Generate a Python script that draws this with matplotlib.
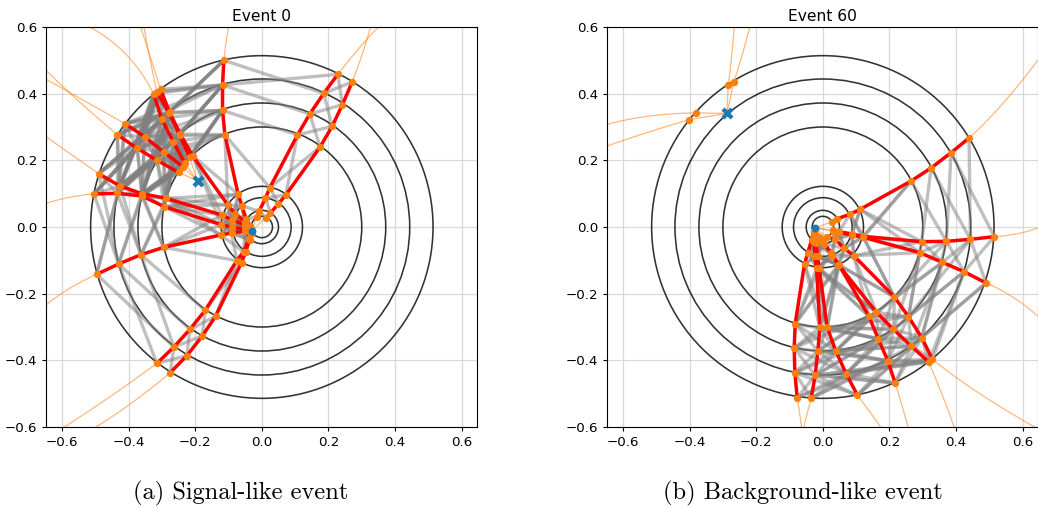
import numpy as np
import matplotlib
matplotlib.use("Agg")
import matplotlib.pyplot as plt
from matplotlib.patches import Circle

W, H = 1038, 508
ring_radii = [0.032, 0.05, 0.088, 0.122, 0.30, 0.372, 0.444, 0.514]
ticks = [-0.6, -0.4, -0.2, 0.0, 0.2, 0.4, 0.6]

# ---------- Event 0 : hits ordered from the outermost layer inward ----------
a_A = [(-.114,.50),(-.118,.426),(-.118,.35),(-.111,.277),(-.071,.098),(-.06,.064),(-.047,.023),(-.036,.004)]
a_B = [(-.304,.413),(-.277,.344),(-.245,.279),(-.208,.214),(-.102,.066),(-.08,.039),(-.05,.016),(-.035,.0)]
a_C = [(-.315,.405),(-.279,.342),(-.247,.277),(-.217,.209)]
a_D = [(-.325,.40),(-.301,.325),(-.266,.256),(-.231,.191)]
a_E = [(-.411,.31),(-.352,.271),(-.295,.225),(-.237,.181)]
a_F = [(-.434,.277),(-.374,.236),(-.315,.20),(-.25,.164)]
a_G = [(-.49,.16),(-.426,.123),(-.36,.10),(-.287,.086),(-.12,.036),(-.089,.021),(-.05,.006),(-.034,-.005)]
a_H = [(-.504,.099),(-.434,.101),(-.36,.093),(-.293,.061),(-.122,.007),(-.089,-.001),(-.05,-.007),(-.034,-.009)]
a_I = [(-.496,-.142),(-.43,-.111),(-.363,-.083),(-.295,-.061),(-.123,-.024),(-.091,-.018),(-.05,-.013),(-.034,-.011)]
a_J = [(-.315,-.409),(-.264,-.36),(-.216,-.307),(-.17,-.25),(-.075,-.101),(-.055,-.074),(-.039,-.037),(-.033,-.016)]
a_K = [(-.275,-.437),(-.225,-.386),(-.179,-.327),(-.139,-.268),(-.061,-.107),(-.049,-.076),(-.037,-.039),(-.032,-.02)]
a_M = [(.228,.458),(.186,.401),(.144,.339),(.107,.276),(.024,.118),(.011,.087),(-.008,.047),(-.015,.031)]
a_N = [(.271,.435),(.242,.367),(.211,.302),(.175,.24),(.072,.096),(.05,.07),(.026,.042),(.012,.028)]
tracks_a = [a_A, a_B, a_C, a_D, a_E, a_F, a_G, a_H, a_I, a_J, a_K, a_M, a_N]
# outward continuation of each track: a middle point and the end point
tails_a = [((-.108,.55),(-.10,.60)), ((-.335,.51),(-.364,.60)), ((-.335,.50),(-.354,.60)),
           ((-.407,.517),(-.517,.60)), ((-.537,.381),(-.648,.443)), ((-.548,.376),(-.648,.47)),
           ((-.577,.221),(-.648,.271)), ((-.577,.089),(-.648,.071)), ((-.577,-.184),(-.648,-.234)),
           ((-.457,-.51),(-.593,-.60)), ((-.387,-.525),(-.498,-.60)), ((.295,.54),(.35,.60)),
           ((.302,.52),(.326,.60))]
vertices_a_x = [-.03, -.193]
vertices_a_y = [-.011, .138]
markers_a = ['o', 'X']
# which vertex each track's innermost hit is joined to
origins_a = [0, 0, 1, 1, 1, 1, 0, 0, 0, 0, 0, 0, 0]

# ---------- Event 60 ----------
b_1 = [(-.077,-.512),(-.084,-.437),(-.086,-.363),(-.083,-.29),(-.055,-.111),(-.045,-.077),(-.034,-.04),(-.028,-.016)]
b_2 = [(-.035,-.514),(-.023,-.445),(-.015,-.372),(-.009,-.301),(-.019,-.124),(-.024,-.087),(-.026,-.045),(-.026,-.02)]
b_3 = [(.104,-.505),(.07,-.44),(.039,-.372),(.013,-.301),(-.011,-.124),(-.016,-.087),(-.02,-.047),(-.022,-.024)]
b_4 = [(.217,-.468),(.195,-.401),(.166,-.335),(.138,-.267),(.049,-.114),(.029,-.086),(.005,-.05),(-.008,-.032)]
b_5 = [(.318,-.405),(.266,-.358),(.212,-.307),(.161,-.256),(.046,-.113),(.026,-.079),(.0,-.045),(-.012,-.03)]
b_6 = [(.329,-.397),(.297,-.332),(.257,-.269),(.215,-.21),(.093,-.086),(.064,-.064),(.036,-.036),(.012,-.03)]
b_7 = [(.49,-.168),(.424,-.134),(.359,-.106),(.291,-.077),(.121,-.031),(.087,-.024),(.046,-.016),(.03,-.012)]
b_8 = [(.515,-.029),(.443,-.037),(.371,-.043),(.297,-.044),(.121,-.028),(.087,-.021),(.049,-.014),(.032,-.01)]
b_9 = [(.439,.267),(.385,.223),(.325,.177),(.265,.138),(.112,.053),(.081,.038),(.044,.025),(.028,.016)]
tracks_b = [b_1, b_2, b_3, b_4, b_5, b_6, b_7, b_8, b_9]
tails_b = [((-.07,-.556),(-.064,-.60)), ((-.046,-.556),(-.057,-.60)), ((.14,-.553),(.173,-.60)),
           ((.236,-.53),(.256,-.60)), ((.361,-.51),(.394,-.60)), ((.471,-.50),(.645,-.605)),
           ((.57,-.21),(.645,-.267)), ((.585,-.02),(.645,-.003)), ((.54,.37),(.645,.50))]
vertices_b_x = [-.024, -.288]
vertices_b_y = [-.003, .341]
markers_b = ['o', 'X']
origins_b = [0, 0, 0, 0, 0, 0, 0, 0, 0]
# isolated outer hits, attached to the second vertex only
lone_hits = [(-.381,.342),(-.401,.322),(-.284,.427),(-.267,.435)]
lone_tails = [((-.519,.333),(-.648,.308)), ((-.519,.286),(-.648,.243)),
              ((-.274,.51),(-.266,.60)), ((-.244,.51),(-.219,.60))]

caption_a = "(a) Signal-like event"
caption_b = "(b) Background-like event"


def phi(p):
    return np.arctan2(p[1], p[0])


def curve(p0, p1, p2):
    # smooth display path through the three read-off points
    t = np.linspace(0, 1, 40)
    xs = np.polyval(np.polyfit([0, .5, 1], [p0[0], p1[0], p2[0]], 2), t)
    ys = np.polyval(np.polyfit([0, .5, 1], [p0[1], p1[1], p2[1]], 2), t)
    return xs, ys


def draw(ax, tracks, tails, vx, vy, markers, origins, title, lone=(), lone_t=()):
    for r in ring_radii:
        ax.add_patch(Circle((0, 0), r, fill=False, ec='black', lw=1.15, alpha=.8, zorder=2))
    # candidate segments between neighbouring layers of nearby tracks
    for i, t1 in enumerate(tracks):
        for j, t2 in enumerate(tracks):
            if i == j:
                continue
            for k in range(min(len(t1) - 1, len(t2) - 1)):
                p, q = t1[k], t2[k + 1]
                d = abs((phi(p) - phi(q) + np.pi) % (2 * np.pi) - np.pi)
                if d < 0.75:
                    ax.plot([p[0], q[0]], [p[1], q[1]], color='gray', lw=2.4, alpha=.5,
                            solid_capstyle='butt', zorder=3)
    for t, (mid, end), o in zip(tracks, tails, origins):
        xs, ys = curve(t[0], mid, end)
        ax.plot(xs, ys, color='C1', lw=.9, alpha=.55, zorder=2.5)
        ax.plot([t[-1][0], vx[o]], [t[-1][1], vy[o]], color='C1', lw=.9, alpha=.55, zorder=2.5)
    for p, (mid, end) in zip(lone, lone_t):
        xs, ys = curve(p, mid, end)
        ax.plot(xs, ys, color='C1', lw=.9, alpha=.55, zorder=2.5)
        ax.plot([p[0], vx[1]], [p[1], vy[1]], color='C1', lw=.9, alpha=.55, zorder=2.5)
    for t in tracks:
        arr = np.array(t)
        ax.plot(arr[:, 0], arr[:, 1], color='red', lw=2.5, solid_capstyle='round', zorder=4)
    allhits = np.array([p for t in tracks for p in t] + list(lone))
    ax.scatter(allhits[:, 0], allhits[:, 1], s=28, color='C1', zorder=5, linewidths=0)
    for x, y, m in zip(vx, vy, markers):
        ax.scatter([x], [y], s=75 if m == 'X' else 32, color='C0', marker=m, zorder=6, linewidths=0)
    ax.set_xlim(-.648, .646)
    ax.set_ylim(-.6, .6)
    ax.set_xticks(ticks)
    ax.set_yticks(ticks)
    ax.tick_params(labelsize=9.6, length=3.2, pad=3)
    ax.grid(True, color='lightgray', lw=.9, alpha=.85)
    ax.set_axisbelow(True)
    ax.set_title(title, fontsize=11.2, pad=4)


fig = plt.figure(figsize=(W / 100, H / 100), dpi=100)
ax1 = fig.add_axes([46 / W, (H - 427) / H, 431 / W, 400 / H])
ax2 = fig.add_axes([607 / W, (H - 427) / H, 431 / W, 400 / H])
draw(ax1, tracks_a, tails_a, vertices_a_x, vertices_a_y, markers_a, origins_a, "Event 0")
draw(ax2, tracks_b, tails_b, vertices_b_x, vertices_b_y, markers_b, origins_b, "Event 60", lone_hits, lone_tails)
fig.text(241 / W, 1 - 493 / H, caption_a, family='cmr10', fontsize=17.6, ha='center', va='center')
fig.text(803 / W, 1 - 493 / H, caption_b, family='cmr10', fontsize=17.6, ha='center', va='center')
fig.savefig("out.png", dpi=100)
